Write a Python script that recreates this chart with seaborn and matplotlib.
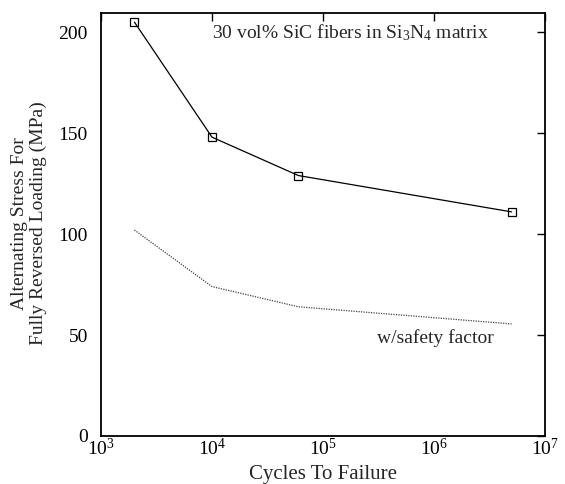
import matplotlib
matplotlib.use("Agg")
import matplotlib.pyplot as plt
import seaborn as sns
import pandas as pd
from matplotlib.ticker import LogLocator, NullLocator, LogFormatterMathtext

cycles = [2000, 10000, 60000, 5000000]
stress = [205, 148, 129, 111]
stress_sf = [102, 74, 64, 55.5]

sns.set_theme(style="white")
plt.rcParams['font.family'] = ['Liberation Serif', 'DejaVu Serif']
plt.rcParams['mathtext.fontset'] = 'custom'
plt.rcParams['mathtext.rm'] = 'Liberation Serif'
plt.rcParams['mathtext.it'] = 'Liberation Serif:italic'
plt.rcParams['mathtext.bf'] = 'Liberation Serif:bold'

df = pd.DataFrame({"cycles": cycles, "stress": stress, "sf": stress_sf})

fig = plt.figure(figsize=(5.65, 4.84), dpi=100)
ax = fig.add_axes([101/565, 48/484, 444/565, 423/484])

sns.lineplot(data=df, x="cycles", y="stress", ax=ax, color="black", lw=0.9,
             marker="s", markersize=6, markerfacecolor="none",
             markeredgecolor="black", markeredgewidth=0.9)
sns.lineplot(data=df, x="cycles", y="sf", ax=ax, color="#444444", lw=0.9,
             linestyle=(0, (1, 1)))

ax.set_xscale("log")
ax.set_xlim(1e3, 1e7)
ax.set_ylim(0, 209.5)
ax.xaxis.set_major_locator(LogLocator(base=10, numticks=10))
ax.xaxis.set_major_formatter(LogFormatterMathtext())
ax.xaxis.set_minor_locator(NullLocator())
ax.set_yticks([0, 50, 100, 150, 200])

for s in ax.spines.values():
    s.set_color("black")
    s.set_linewidth(1.3)

ax.tick_params(axis="both", which="major", direction="in", length=6, width=1,
               top=True, right=True, labelsize=14, colors="black")
ax.tick_params(axis="x", pad=1.5)
ax.tick_params(axis="y", pad=9.5)

ax.set_xlabel("Cycles To Failure", fontsize=15, labelpad=4)
ax.set_ylabel("Alternating Stress For\nFully Reversed Loading (MPa)", fontsize=14,
              linespacing=1.12)
ax.yaxis.set_label_coords(-0.163, 0.503)
ax.yaxis.label.set_va("center")

ax.text(0.25, 0.953, r"30 vol% SiC fibers in Si$_\mathrm{3}$N$_\mathrm{4}$ matrix",
        transform=ax.transAxes, fontsize=14, ha="left", va="center")
ax.text(0.622, 0.232, "w/safety factor", transform=ax.transAxes, fontsize=14,
        ha="left", va="center")

fig.savefig("out.png", dpi=100)
